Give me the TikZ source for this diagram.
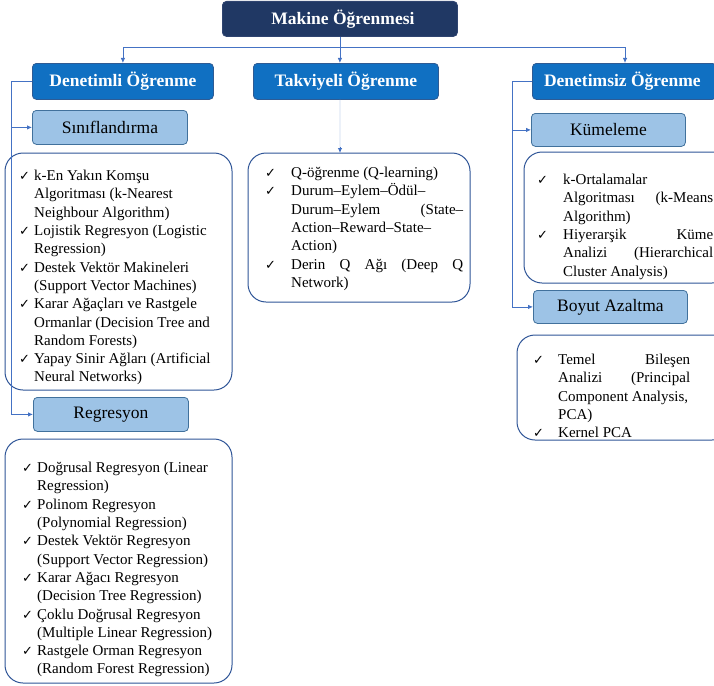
\documentclass[tikz,border=0pt]{standalone}
\usepackage{fontspec}
\setmainfont{Liberation Serif}
\newfontfamily\chkfont{DejaVu Sans}
\usetikzlibrary{arrows.meta,calc}
\definecolor{navy}{HTML}{203864}
\definecolor{navyB}{HTML}{2F4470}
\definecolor{mblue}{HTML}{1070C2}
\definecolor{mblueB}{HTML}{2E5B94}
\definecolor{lblue}{HTML}{9DC3E6}
\definecolor{lblueB}{HTML}{41719C}
\definecolor{listB}{HTML}{2F5597}
\definecolor{lineC}{HTML}{4472C4}
\definecolor{lineF}{HTML}{C9D7EF}
\newcommand{\ck}{{\chkfont\fontsize{13}{13}\selectfont ✓}}
\newcommand{\itA}{\makebox[15pt][l]{\ck}}
\newcommand{\inA}{\hspace*{15pt}}
\newcommand{\itB}{\makebox[26pt][l]{\ck}}
\newcommand{\inB}{\hspace*{26pt}}
\begin{document}
\begin{tikzpicture}[x=1pt,y=-1pt,
  topbox/.style={draw=navyB, fill=navy, rounded corners=4pt, text=white, inner sep=0pt,
    font=\bfseries\fontsize{17.5}{17.5}\selectfont, anchor=north west, line width=0.8pt},
  mainbox/.style={draw=mblueB, fill=mblue, rounded corners=4pt, text=white, inner sep=0pt,
    font=\bfseries\fontsize{17.5}{17.5}\selectfont, anchor=north west, line width=0.8pt},
  subbox/.style={draw=lblueB, fill=lblue, rounded corners=4pt, text=black, inner sep=0pt,
    font=\fontsize{17.5}{17.5}\selectfont, anchor=north west, line width=0.8pt},
  listbox/.style={draw=listB, rounded corners=18pt, line width=1pt, fill=white},
  listtext/.style={align=left, anchor=north west, inner sep=0pt,
    font=\fontsize{15}{18.3}\selectfont},
  conn/.style={draw=lineC, line width=0.8pt},
  arr/.style={conn, -{Latex[length=5pt,width=4.5pt]}},
]
\useasboundingbox (0,0) rectangle (714,685);

% headers
\node[topbox, minimum width=235pt, minimum height=35pt] (top) at (222,1) {\hspace*{6pt}Makine Öğrenmesi};
\node[mainbox, minimum width=181pt, minimum height=36pt] (den) at (32,63) {Denetimli Öğrenme};
\node[mainbox, minimum width=185pt, minimum height=36pt] (tak) at (253,63) {Takviyeli Öğrenme};
\node[mainbox, minimum width=184pt, minimum height=36pt] (dsz) at (532,63) {\hspace*{-4pt}Denetimsiz Öğrenme};

\node[subbox, minimum width=155pt, minimum height=34pt] (cls) at (32,110) {Sınıflandırma};
\node[subbox, minimum width=155pt, minimum height=34pt] (reg) at (33,397) {Regresyon};
\node[subbox, minimum width=154pt, minimum height=33pt] (kum) at (531,113) {Kümeleme};
\node[subbox, minimum width=154pt, minimum height=33pt] (boy) at (533,290) {Boyut Azaltma};

% list boxes
\draw[listbox] (5,153) rectangle (232,390);
\draw[listbox] (5,439) rectangle (232,683);
\draw[listbox] (248,153) rectangle (470,302);
\draw[listbox] (524,152) rectangle (730,283);
\draw[listbox] (517,335) rectangle (730,440);
\coordinate (rltop) at (340,153);

% list texts
\node[listtext] (clst) at (19,170) {%
\itA k-En Yakın Komşu\\
\inA Algoritması (k-Nearest\\
\inA Neighbour Algorithm)\\
\itA Lojistik Regresyon (Logistic\\
\inA Regression)\\
\itA Destek Vektör Makineleri\\
\inA (Support Vector Machines)\\
\itA Karar Ağaçları ve Rastgele\\
\inA Ormanlar (Decision Tree and\\
\inA Random Forests)\\
\itA Yapay Sinir Ağları (Artificial\\
\inA Neural Networks)};

\node[listtext] (regt) at (22,462) {%
\itA Doğrusal Regresyon (Linear\\
\inA Regression)\\
\itA Polinom Regresyon\\
\inA (Polynomial Regression)\\
\itA Destek Vektör Regresyon\\
\inA (Support Vector Regression)\\
\itA Karar Ağacı Regresyon\\
\inA (Decision Tree Regression)\\
\itA Çoklu Doğrusal Regresyon\\
\inA (Multiple Linear Regression)\\
\itA Rastgele Orman Regresyon\\
\inA (Random Forest Regression)};

\node[listtext] (rlt) at (265,167) {%
\itB Q-öğrenme (Q-learning)\\
\itB Durum–Eylem–Ödül–\\
\inB \makebox[172pt][s]{Durum–Eylem (State–}\\
\inB Action–Reward–State–\\
\inB Action)\\
\itB \makebox[172pt][s]{Derin Q Ağı (Deep Q}\\
\inB Network)};

\node[listtext] (clut) at (537,174) {%
\itB k-Ortalamalar\\
\inB \makebox[150pt][s]{Algoritması (k-Means}\\
\inB Algorithm)\\
\itB \makebox[150pt][s]{Hiyerarşik Küme}\\
\inB \makebox[150pt][s]{Analizi (Hierarchical}\\
\inB Cluster Analysis)};

\node[listtext] (dimt) at (533,354) {%
\makebox[25pt][l]{\ck}\makebox[132pt][s]{Temel Bileşen}\\
\hspace*{25pt}\makebox[132pt][s]{Analizi (Principal}\\
\hspace*{25pt}Component Analysis,\\
\hspace*{25pt}PCA)\\
\makebox[25pt][l]{\ck}Kernel PCA};

% connectors
\coordinate (j) at (top.south |- 0,47);
\draw[conn] (top.south) -- (j);
\draw[arr] (j) -| (den.north);
\draw[arr] (j) -| (625,63);
\draw[arr] (j) -- (j |- tak.north);
\draw[draw=lineF, line width=0.8pt] (top.south |- tak.south) -- ($(rltop)+(0,-5)$);
\draw[arr] ($(rltop)+(0,-6)$) -- (rltop);

\coordinate (lx) at (11,0);
\draw[conn] (den.west) -- (den.west -| lx);
\draw[arr] (den.west -| lx) |- (cls.west);
\draw[arr] (den.west -| lx) |- (reg.west);

\coordinate (rx) at (512,0);
\draw[conn] (dsz.west) -- (dsz.west -| rx);
\draw[arr] (dsz.west -| rx) |- (kum.west);
\draw[arr] (dsz.west -| rx) |- (boy.west);
\end{tikzpicture}
\end{document}
